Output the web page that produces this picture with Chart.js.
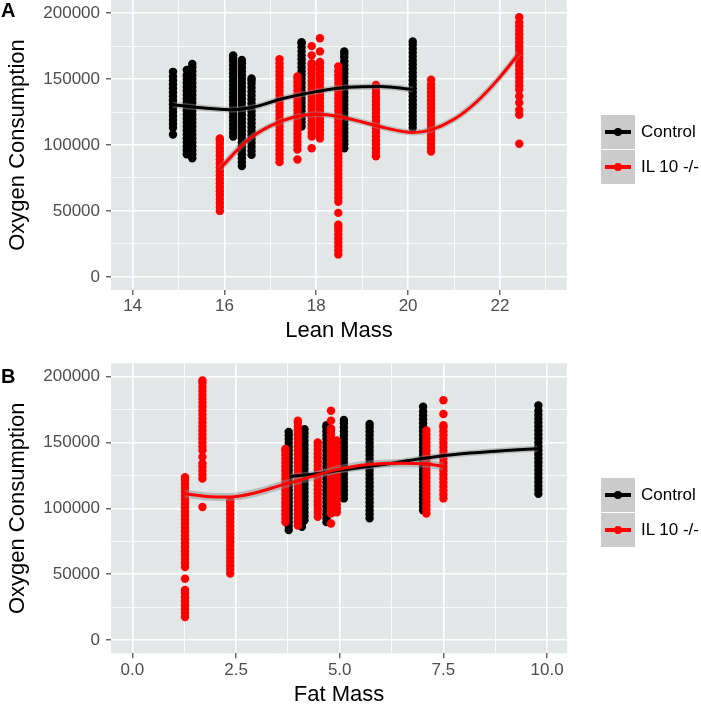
<!DOCTYPE html>
<html>
<head>
<meta charset="utf-8">
<script src="https://cdn.jsdelivr.net/npm/chart.js@4.4.0/dist/chart.umd.min.js"></script>
<style>
  body { margin: 0; background: #fff; width: 701px; height: 704px; position: relative; overflow: hidden;
         font-family: 'Liberation Sans', Arial, sans-serif; }
  canvas { position: absolute; left: 0; }
  #chartA { top: 0; }
  #chartB { top: 352px; }
  .tag { position: absolute; left: 1px; font-weight: bold; font-size: 20px; line-height: 20px; color: #000; }
  .legend { position: absolute; left: 601px; width: 100px; }
  .item { position: relative; height: 34px; margin-bottom: 1px; }
  .key { position: absolute; left: 0; top: 0; width: 34px; height: 34px; background: #cbcbcb; }
  .key .ln { position: absolute; left: 4px; top: 15px; width: 26px; height: 3.5px; }
  .key .dot { position: absolute; left: 12.7px; top: 12.6px; width: 8.6px; height: 8.6px; border-radius: 50%; }
  .item span { position: absolute; left: 40px; top: 0; line-height: 34px; font-size: 17px; color: #000; white-space: nowrap; }
</style>
</head>
<body>
<canvas id="chartA" width="701" height="352"></canvas>
<canvas id="chartB" width="701" height="352"></canvas>
<div class="tag" style="top:0px">A</div>
<div class="tag" style="top:366px">B</div>
<div class="legend" style="top:115px">
  <div class="item"><div class="key"><div class="ln" style="background:#000"></div><div class="dot" style="background:#000"></div></div><span>Control</span></div>
  <div class="item"><div class="key"><div class="ln" style="background:#ff0000"></div><div class="dot" style="background:#ff0000"></div></div><span>IL 10 -/-</span></div>
</div>
<div class="legend" style="top:478px">
  <div class="item"><div class="key"><div class="ln" style="background:#000"></div><div class="dot" style="background:#000"></div></div><span>Control</span></div>
  <div class="item"><div class="key"><div class="ln" style="background:#ff0000"></div><div class="dot" style="background:#ff0000"></div></div><span>IL 10 -/-</span></div>
</div>
<script>
// ---- data ----
const seriesNames = ['Control', 'IL 10 -/-'];

// panel A: lean mass, one strip of repeated measurements per mouse
const leanCtrlX = [14.88, 15.18, 15.3, 16.19, 16.38, 16.59, 17.68, 18.61, 20.1];
const leanCtrlY = [
  [108000, 113000, 116000, 119000, 122000, 125000, 128000, 131000, 134000, 137000, 140000, 143000, 146000, 149000, 152000, 155500],
  [93000, 96000, 99000, 102000, 105000, 108000, 111000, 114000, 117000, 120000, 123000, 126000, 129000, 132000, 135000, 138000, 141000, 144000, 147000, 150000, 153000, 157000],
  [90000, 93000, 96000, 99000, 102000, 105000, 108000, 111000, 114000, 117000, 120000, 123000, 126000, 129000, 132000, 135000, 138000, 141000, 144000, 147000, 150000, 153000, 156000, 159000, 161500],
  [106500, 109500, 112500, 115500, 118500, 121500, 124500, 127500, 130500, 133500, 136500, 139500, 142500, 145500, 148500, 151500, 154500, 157500, 160500, 163500, 166000, 168000],
  [84000, 87000, 90000, 93000, 96000, 99000, 102000, 105000, 108000, 111000, 114000, 117000, 120000, 123000, 126000, 129000, 132000, 135000, 138000, 141000, 144000, 147000, 150000, 153000, 156000, 159000, 162000, 164500],
  [92500, 95500, 98500, 101500, 104500, 107500, 110500, 113500, 116500, 119500, 122500, 125500, 128500, 131500, 134500, 137500, 140500, 143500, 146500, 149000, 150500],
  [114000, 117000, 120000, 123000, 126000, 129000, 132000, 135000, 138000, 141000, 144000, 147000, 150000, 153000, 156000, 159000, 162000, 165000, 168000, 171000, 174000, 177000, 178000],
  [97500, 100500, 103500, 106500, 109500, 112500, 115500, 118500, 121500, 124500, 127500, 130500, 133500, 136500, 139500, 142500, 145500, 148500, 151500, 154500, 157500, 160500, 163500, 166500, 169000, 171000],
  [113000, 116000, 119000, 122000, 125000, 128000, 131000, 134000, 137000, 140000, 143000, 146000, 149000, 152000, 155000, 158000, 161000, 164000, 167000, 170000, 173000, 176000, 178500]
];
const leanIlX = [15.9, 17.2, 17.59, 17.9, 18.08, 18.48, 19.3, 20.5, 22.42];
const leanIlY = [
  [50000, 53000, 56000, 59000, 62000, 65000, 68000, 71000, 74000, 77000, 80000, 83000, 86000, 89000, 92000, 95000, 98000, 101000, 103500, 105000],
  [87000, 90000, 93000, 96000, 99000, 102000, 105000, 108000, 111000, 114000, 117000, 120000, 123000, 126000, 129000, 132000, 135000, 138000, 141000, 144000, 147000, 150000, 153000, 156000, 159000, 162000, 165000],
  [89000, 96500, 99500, 102500, 105500, 108500, 111500, 114500, 117500, 120500, 123500, 126500, 129500, 132500, 135500, 138500, 141500, 144500, 147500, 150000, 152000],
  [97500, 106500, 109500, 112500, 115500, 118500, 121500, 124500, 127500, 130500, 133500, 136500, 139500, 142500, 145500, 148500, 151500, 154500, 157500, 160500, 162000, 168000, 175000],
  [105000, 108000, 111000, 114000, 117000, 120000, 123000, 126000, 129000, 132000, 135000, 138000, 141000, 144000, 147000, 150000, 153000, 156000, 159000, 162000, 163000, 171000, 181000],
  [17000, 20000, 23000, 26000, 29000, 32000, 35000, 37500, 39500, 48500, 57000, 60000, 63000, 66000, 69000, 72000, 75000, 78000, 81000, 84000, 87000, 90000, 93000, 96000, 99000, 102000, 105000, 108000, 111000, 114000, 117000, 120000, 123000, 126000, 129000, 132000, 135000, 138000, 141000, 144000, 147000, 150000, 153000, 156000, 159500],
  [91500, 94500, 97500, 100500, 103500, 106500, 109500, 112500, 115500, 118500, 121500, 124500, 127500, 130500, 133500, 136500, 139500, 142500, 145500],
  [95000, 98000, 101000, 104000, 107000, 110000, 113000, 116000, 119000, 122000, 125000, 128000, 131000, 134000, 137000, 140000, 143000, 146000, 149500],
  [101000, 123000, 126500, 132000, 137000, 142000, 145000, 148000, 151000, 154000, 157000, 160000, 163000, 166000, 169000, 172000, 175000, 178000, 181000, 184000, 187000, 190000, 193000, 197000]
];
// loess fits (panel A)
const leanCtrlFitX = [14.88, 15.5, 16.1, 16.6, 17.3, 18.0, 18.7, 19.4, 20.1];
const leanCtrlFitY = [130500, 128200, 126800, 128500, 135500, 140500, 143800, 144300, 142200];
const leanIlFitX = [15.9, 16.5, 17.0, 17.5, 18.0, 18.5, 19.0, 19.5, 20.1, 20.5, 21.0, 21.5, 22.0, 22.42];
const leanIlFitY = [82000, 103500, 114500, 121000, 123300, 121500, 117500, 113000, 109500, 111500, 119500, 133000, 151500, 169700];

// panel B: fat mass
const fatCtrlX = [3.77, 4.09, 4.15, 4.68, 5.1, 5.72, 7.01, 9.79];
const fatCtrlY = [
  [83500, 86500, 89500, 92500, 95500, 98500, 101500, 104500, 107500, 110500, 113500, 116500, 119500, 122500, 125500, 128500, 131500, 134500, 137500, 140500, 143500, 146500, 149500, 152500, 155500, 158000],
  [86000, 89000, 92000, 95000, 98000, 101000, 104000, 107000, 110000, 113000, 116000, 119000, 122000, 125000, 128000, 131000, 134000, 137000, 140000, 143000, 146000, 149000, 152000, 155000, 158000, 159000],
  [91000, 94000, 97000, 100000, 103000, 106000, 109000, 112000, 115000, 118000, 121000, 124000, 127000, 130000, 133000, 136000, 139000, 142000, 145000, 148000, 151000, 154000, 157000, 160000],
  [89500, 92500, 95500, 98500, 101500, 104500, 107500, 110500, 113500, 116500, 119500, 122500, 125500, 128500, 131500, 134500, 137500, 140500, 143500, 146500, 149500, 152500, 155500, 158500, 161500, 163000],
  [107500, 110500, 113500, 116500, 119500, 122500, 125500, 128500, 131500, 134500, 137500, 140500, 143500, 146500, 149500, 152500, 155500, 158500, 161500, 164500, 167000],
  [92500, 95500, 98500, 101500, 104500, 107500, 110500, 113500, 116500, 119500, 122500, 125500, 128500, 131500, 134500, 137500, 140500, 143500, 146500, 149500, 152500, 155500, 158500, 161500, 164000],
  [98500, 101500, 104500, 107500, 110500, 113500, 116500, 119500, 122500, 125500, 128500, 131500, 134500, 137500, 140500, 143500, 146500, 149500, 152500, 155500, 158500, 161500, 164500, 167500, 170500, 173500, 177000],
  [111000, 114000, 117000, 120000, 123000, 126000, 129000, 132000, 135000, 138000, 141000, 144000, 147000, 150000, 153000, 156000, 159000, 162000, 165000, 168000, 171000, 174000, 178000]
];
const fatIlX = [1.27, 1.69, 2.36, 3.69, 3.99, 4.47, 4.79, 4.93, 7.09, 7.5];
const fatIlY = [
  [17500, 20500, 23500, 26500, 29500, 32500, 35500, 38000, 46500, 55500, 58500, 61500, 64500, 67500, 70500, 73500, 76500, 79500, 82500, 85500, 88500, 91500, 94500, 97500, 100500, 103500, 106500, 109500, 112500, 115500, 118500, 121500, 123500],
  [101000, 122500, 125500, 128500, 131500, 134000, 139000, 144000, 147000, 150000, 153000, 156000, 159000, 162000, 165000, 168000, 171000, 174000, 177000, 180000, 183000, 186000, 189000, 192000, 195000, 197000],
  [50500, 53500, 56500, 59500, 62500, 65500, 68500, 71500, 74500, 77500, 80500, 83500, 86500, 89500, 92500, 95500, 98500, 101500, 104500, 106000],
  [89500, 92500, 95500, 98500, 101500, 104500, 107500, 110500, 113500, 116500, 119500, 122500, 125500, 128500, 131500, 134500, 137500, 140500, 143500, 145000],
  [87000, 90000, 93000, 96000, 99000, 102000, 105000, 108000, 111000, 114000, 117000, 120000, 123000, 126000, 129000, 132000, 135000, 138000, 141000, 144000, 147000, 150000, 153000, 156000, 159000, 162000, 165000, 166500],
  [93500, 96500, 99500, 102500, 105500, 108500, 111500, 114500, 117500, 120500, 123500, 126500, 129500, 132500, 135500, 138500, 141500, 144500, 147500, 150000],
  [88500, 96000, 99000, 102000, 105000, 108000, 111000, 114000, 117000, 120000, 123000, 126000, 129000, 132000, 135000, 138000, 141000, 144000, 147000, 150000, 153000, 156000, 159000, 160500, 166500, 174000],
  [97000, 100000, 103000, 106000, 109000, 112000, 115000, 118000, 121000, 124000, 127000, 130000, 133000, 136000, 139000, 142000, 145000, 148000, 151500],
  [96000, 99000, 102000, 105000, 108000, 111000, 114000, 117000, 120000, 123000, 126000, 129000, 132000, 135000, 138000, 141000, 144000, 147000, 150000, 153000, 156000, 159000],
  [107500, 110500, 113500, 116500, 119500, 122500, 125500, 128500, 131500, 134500, 137500, 140500, 143500, 146500, 149500, 152500, 155500, 158500, 161500, 163000, 171500, 182000]
];
const fatCtrlFitX = [3.81, 4.5, 5.0, 6.0, 7.0, 8.0, 9.0, 9.77];
const fatCtrlFitY = [124000, 126500, 128800, 133000, 137800, 141500, 143800, 145200];
const fatIlFitX = [1.27, 1.8, 2.36, 3.0, 3.57, 4.05, 4.4, 4.85, 5.3, 5.7, 6.47, 7.11, 7.5];
const fatIlFitY = [111000, 109000, 108600, 112000, 117400, 121500, 124800, 128800, 131600, 133200, 134200, 133600, 131800];

// axis ticks
const yTicks = [0, 25000, 50000, 75000, 100000, 125000, 150000, 175000, 200000];
const yLabels = [0, 50000, 100000, 150000, 200000];
const leanTicks = [14, 15, 16, 17, 18, 19, 20, 21, 22, 23];
const leanLabels = [14, 16, 18, 20, 22];
const fatTicks = [0, 1.25, 2.5, 3.75, 5, 6.25, 7.5, 8.75, 10];
const fatLabels = [0, 2.5, 5, 7.5, 10];

const colors = ['#000000', '#ff0000'];
const FONT = "'Liberation Sans', Arial, sans-serif";

function strips(xs, ys) {
  return xs.flatMap((x, i) => ys[i].map(y => ({x: x, y: y})));
}
function pairs(xs, ys) {
  return xs.map((x, i) => ({x: x, y: ys[i]}));
}

const panelBg = {
  id: 'panelBg',
  beforeDraw(chart) {
    const {ctx, chartArea: a} = chart;
    ctx.save();
    ctx.fillStyle = '#e2e6e6';
    ctx.fillRect(a.left, a.top, a.right - a.left, a.bottom - a.top);
    ctx.restore();
  }
};

function gridFor(labels) {
  const major = v => labels.some(l => Math.abs(l - v) < 1e-9);
  return {
    color: '#ffffff',
    lineWidth: c => (c.tick && major(c.tick.value)) ? 1.6 : 0.8,
    tickColor: c => (c.tick && major(c.tick.value)) ? '#333333' : 'rgba(0,0,0,0)',
    tickLength: 5,
    tickWidth: 1.1,
    drawOnChartArea: true
  };
}

function makePanel(id, p) {
  const H = 352;
  const ctx = document.getElementById(id).getContext('2d');
  const lineDs = (data, color, width, order) => ({
    data: data, showLine: true, borderColor: color, borderWidth: width,
    pointRadius: 0, pointHoverRadius: 0, cubicInterpolationMode: 'monotone', order: order
  });
  const pointDs = (data, color, order) => ({
    data: data, backgroundColor: color, borderWidth: 0,
    pointRadius: 4.2, pointHoverRadius: 4.2, order: order
  });
  return new Chart(ctx, {
    type: 'scatter',
    data: {
      datasets: [
        Object.assign(pointDs(p.ctrlPts, colors[0], 6), {label: seriesNames[0]}),
        Object.assign(pointDs(p.ilPts, colors[1], 5), {label: seriesNames[1]}),
        lineDs(p.ctrlFit, 'rgba(140,140,140,0.45)', 6, 4),
        lineDs(p.ilFit, 'rgba(140,140,140,0.45)', p.ilRibbon, 3),
        lineDs(p.ctrlFit, colors[0], 3, 2),
        lineDs(p.ilFit, colors[1], 3, 1)
      ]
    },
    options: {
      responsive: false,
      animation: false,
      devicePixelRatio: 1,
      layout: { autoPadding: false, padding: { top: p.plotTop, left: 0, right: 134, bottom: p.padB } },
      plugins: { legend: { display: false }, tooltip: { enabled: false } },
      scales: {
        x: {
          type: 'linear', min: p.xMin, max: p.xMax,
          afterBuildTicks: s => { s.ticks = p.xTicks.map(v => ({value: v})); },
          afterFit: s => { s.height = H - p.padB - p.plotBottom; s.paddingLeft = 0; s.paddingRight = 0; },
          grid: gridFor(p.xLabels),
          border: { display: false },
          ticks: {
            autoSkip: false, maxRotation: 0, padding: 1.5,
            color: '#4d4d4d', font: { family: FONT, size: 17, lineHeight: 1.2 },
            callback: v => p.xLabels.some(l => Math.abs(l - v) < 1e-9) ? v.toFixed(p.xDigits) : ''
          },
          title: { display: true, text: p.xTitle, color: '#000', padding: {top: 0, bottom: 0},
                   font: { family: FONT, size: 22, lineHeight: 0.8 } }
        },
        y: {
          type: 'linear', min: -10000, max: 210000,
          afterBuildTicks: s => { s.ticks = yTicks.map(v => ({value: v})); },
          afterFit: s => { s.width = 111; s.paddingTop = 0; s.paddingBottom = 0; },
          grid: gridFor(yLabels),
          border: { display: false },
          ticks: {
            autoSkip: false, padding: 6,
            color: '#4d4d4d', font: { family: FONT, size: 17 },
            callback: v => yLabels.includes(v) ? String(v) : ''
          },
          title: { display: true, text: 'Oxygen Consumption', color: '#000', padding: {top: 8.7, bottom: 0},
                   font: { family: FONT, size: 22, lineHeight: 0.8 } }
        }
      }
    },
    plugins: [panelBg]
  });
}

makePanel('chartA', {
  ctrlPts: strips(leanCtrlX, leanCtrlY), ilPts: strips(leanIlX, leanIlY),
  ctrlFit: pairs(leanCtrlFitX, leanCtrlFitY), ilFit: pairs(leanIlFitX, leanIlFitY), ilRibbon: 6,
  xMin: 13.53, xMax: 23.46, xTicks: leanTicks, xLabels: leanLabels, xDigits: 0, xTitle: 'Lean Mass',
  plotTop: 0, plotBottom: 290, padB: 12.2
});
makePanel('chartB', {
  ctrlPts: strips(fatCtrlX, fatCtrlY), ilPts: strips(fatIlX, fatIlY),
  ctrlFit: pairs(fatCtrlFitX, fatCtrlFitY), ilFit: pairs(fatIlFitX, fatIlFitY), ilRibbon: 8,
  xMin: -0.515, xMax: 10.48, xTicks: fatTicks, xLabels: fatLabels, xDigits: 1, xTitle: 'Fat Mass',
  plotTop: 11.3, plotBottom: 301.3, padB: 0.2
});
</script>
</body>
</html>
